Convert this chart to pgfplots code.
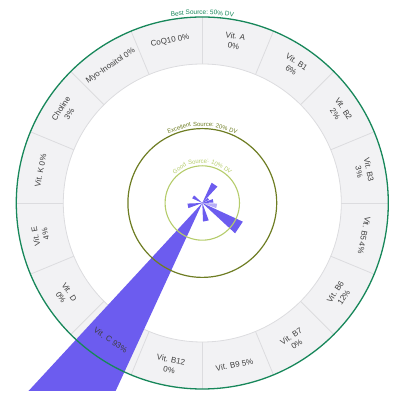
\documentclass[border=0pt]{standalone}
\usepackage{pgfplots}
\pgfplotsset{compat=1.18}
\usepackage{fontspec}
\setmainfont{Liberation Sans}

\definecolor{bar}{HTML}{6C5CEF}
\definecolor{barlight}{HTML}{B8AEF7}
\definecolor{band}{HTML}{F2F2F4}
\definecolor{bandline}{HTML}{DCDCDF}
\definecolor{best}{HTML}{17875A}
\definecolor{excellent}{HTML}{6E7D23}
\definecolor{good}{HTML}{B5CC6B}
\definecolor{labeltext}{HTML}{3E3E3E}

\newcommand{\seglabel}[3]{% angle, rotation, text
  \path (axis cs:0,0) ++(#1:165pt) node[rotate=#2, align=center,
    font=\fontsize{8}{10}\selectfont, text=labeltext, inner sep=0pt] {#3};}
\newcommand{\arcword}[5]{% radius, angle, colour, size, word
  \path (axis cs:0,0) ++(#2:#1) node[rotate=#2-90, anchor=base, inner sep=0pt,
    font=\fontsize{#4}{#4}\selectfont, text=#3] {#5};}

\begin{document}
\begin{tikzpicture}
\begin{axis}[x=3.72pt, y=3.72pt,
    xmin=-54.38, xmax=53.147, ymin=-50.538, ymax=54.57,
    hide axis]
  % label band
  \fill[band, even odd rule] (axis cs:0,0) circle[radius=186pt] circle[radius=139pt];
  \draw[bandline, line width=0.8pt] (axis cs:0,0) circle[radius=139pt];
  \pgfplotsinvokeforeach{0,...,15}{%
    \draw[bandline, line width=0.8pt] (axis cs:0,0) ++(90-22.5*#1:139pt) -- ++(90-22.5*#1:47pt);}

  % bars (angle, % DV)
  \addplot[fill=bar, draw=none, data cs=polar] coordinates {(0,0) (47.25,6) (65.25,6)};      % B1
  \addplot[fill=bar, draw=none, data cs=polar] coordinates {(0,0) (24.75,2) (42.75,2)};      % B2
  \addplot[fill=bar, draw=none, data cs=polar] coordinates {(0,0) (2.25,3) (20.25,3)};       % B3
  \addplot[fill=barlight, draw=none, data cs=polar] coordinates {(0,0) (-20.25,4) (-2.25,4)}; % B5
  \addplot[fill=bar, draw=none, data cs=polar] coordinates {(0,0) (-42.75,12) (-24.75,12)};  % B6
  \addplot[fill=bar, draw=none, data cs=polar] coordinates {(0,0) (-87.75,5) (-69.75,5)};    % B9
  \addplot[fill=bar, draw=none, data cs=polar] coordinates {(0,0) (-132.75,93) (-114.75,93)}; % C
  \addplot[fill=bar, draw=none, data cs=polar] coordinates {(0,0) (-177.75,4) (-159.75,4)};  % E
  \addplot[fill=bar, draw=none, data cs=polar] coordinates {(0,0) (137.25,3) (155.25,3)};    % Choline

  % reference rings
  \draw[good, line width=1.1pt] (axis cs:0,0) circle[radius=37.2pt];
  \draw[excellent, line width=1.2pt] (axis cs:0,0) circle[radius=74.4pt];
  \draw[best, line width=1.3pt] (axis cs:0,0) circle[radius=186pt];

  \arcword{188.5pt}{97.57}{best}{6.5}{Best}
  \arcword{188.5pt}{91.64}{best}{6.5}{Source:}
  \arcword{188.5pt}{85.71}{best}{6.5}{50\%}
  \arcword{188.5pt}{81.82}{best}{6.5}{DV}
  \arcword{76.5pt}{107.2}{excellent}{6}{Excellent}
  \arcword{76.5pt}{89.12}{excellent}{6}{Source:}
  \arcword{76.5pt}{75.63}{excellent}{6}{20\%}
  \arcword{76.5pt}{66.8}{excellent}{6}{DV}
  \arcword{39.5pt}{123.4}{good}{6}{Good}
  \arcword{39.5pt}{95.27}{good}{6}{Source:}
  \arcword{39.5pt}{69.1}{good}{6}{10\%}
  \arcword{39.5pt}{52.0}{good}{6}{DV}

  % segment labels
  \seglabel{78.75}{-11.25}{Vit. A\\0\%}
  \seglabel{56.25}{-33.75}{Vit. B1\\6\%}
  \seglabel{33.75}{-56.25}{Vit. B2\\2\%}
  \seglabel{11.25}{-78.75}{Vit. B3\\3\%}
  \seglabel{-11.25}{-101.25}{Vit. B5 4\%}
  \seglabel{-33.75}{56.25}{Vit. B6\\12\%}
  \seglabel{-56.25}{33.75}{Vit. B7\\0\%}
  \seglabel{-78.75}{11.25}{Vit. B9 5\%}
  \seglabel{-101.25}{-11.25}{Vit. B12\\0\%}
  \seglabel{-123.75}{-33.75}{Vit. C 93\%}
  \seglabel{-146.25}{-56.25}{Vit. D\\0\%}
  \seglabel{-168.75}{101.25}{Vit. E\\4\%}
  \seglabel{168.75}{78.75}{Vit. K 0\%}
  \seglabel{146.25}{56.25}{Choline\\3\%}
  \seglabel{123.75}{33.75}{Myo-Inositol 0\%}
  \seglabel{101.25}{11.25}{CoQ10 0\%}
\end{axis}
\path (current axis.south west) ++(0,-9pt) (current axis.north east);
\end{tikzpicture}
\end{document}
